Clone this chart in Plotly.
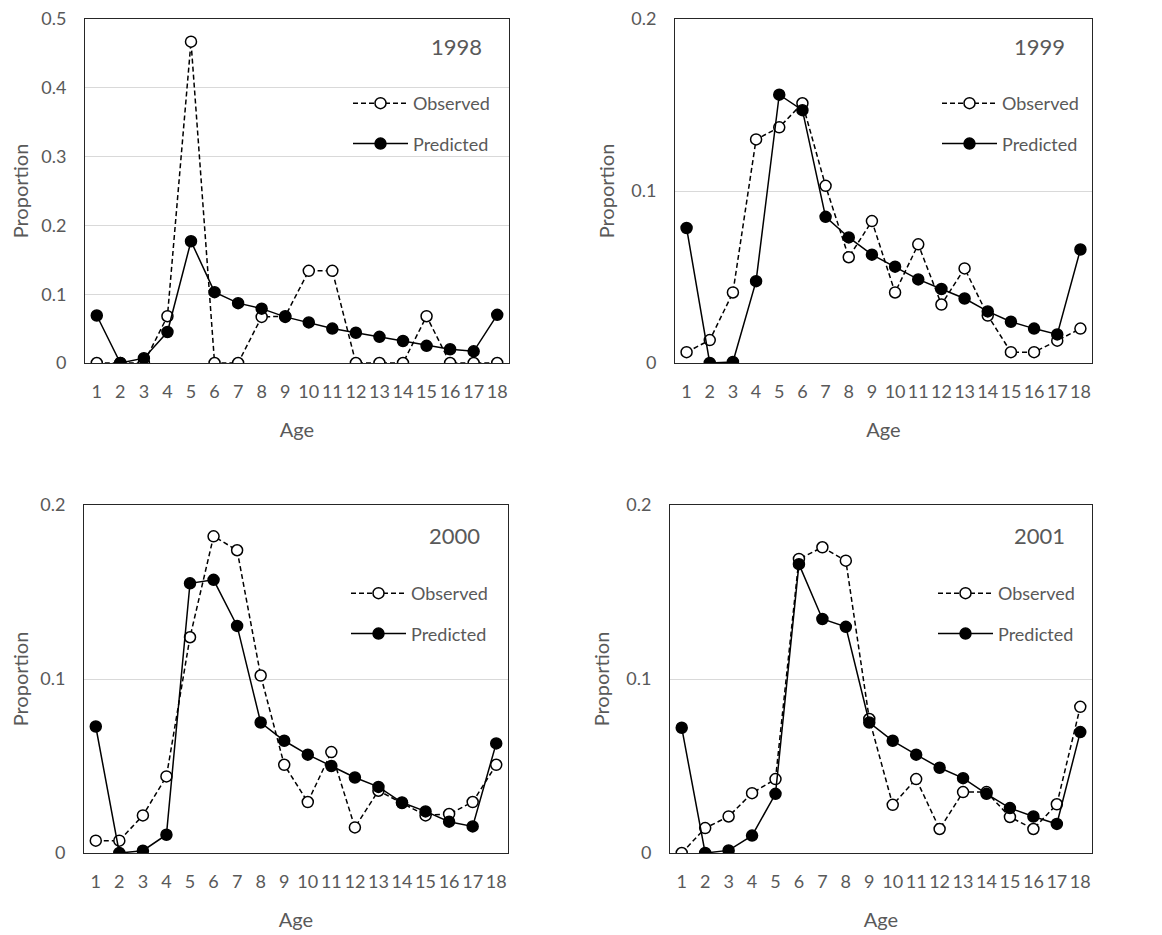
import plotly.graph_objects as go

ages = list(range(1, 19))
years = ["1998", "1999", "2000", "2001"]

obs_1998 = [0, 0, 0, 0.068, 0.467, 0, 0, 0.067, 0.068, 0.134, 0.134, 0, 0, 0, 0.068, 0, 0, 0]
pred_1998 = [0.069, 0, 0.007, 0.045, 0.177, 0.103, 0.087, 0.079, 0.067, 0.059, 0.050, 0.044, 0.038, 0.032, 0.025, 0.020, 0.017, 0.070]

obs_1999 = [0.0063, 0.0133, 0.041, 0.130, 0.137, 0.151, 0.103, 0.0615, 0.0825, 0.041, 0.069, 0.034, 0.055, 0.0276, 0.0063, 0.0063, 0.013, 0.020]
pred_1999 = [0.0785, 0, 0.0006, 0.0476, 0.156, 0.147, 0.085, 0.073, 0.063, 0.056, 0.0486, 0.043, 0.0375, 0.030, 0.024, 0.020, 0.0166, 0.066]

obs_2000 = [0.0071, 0.0071, 0.0216, 0.044, 0.124, 0.182, 0.174, 0.102, 0.0507, 0.0293, 0.058, 0.0147, 0.0358, 0.0287, 0.0216, 0.0224, 0.0293, 0.0507]
pred_2000 = [0.0727, 0, 0.0013, 0.0105, 0.155, 0.157, 0.1305, 0.075, 0.0645, 0.0565, 0.050, 0.0434, 0.038, 0.029, 0.0239, 0.018, 0.0153, 0.063]

obs_2001 = [0, 0.0143, 0.021, 0.0344, 0.0425, 0.169, 0.1757, 0.168, 0.077, 0.0277, 0.0425, 0.0138, 0.035, 0.035, 0.0207, 0.0138, 0.028, 0.084]
pred_2001 = [0.072, 0, 0.0015, 0.010, 0.034, 0.166, 0.1345, 0.130, 0.075, 0.0645, 0.0565, 0.049, 0.043, 0.034, 0.0258, 0.021, 0.0167, 0.0695]

observed = [obs_1998, obs_1999, obs_2000, obs_2001]
predicted = [pred_1998, pred_1999, pred_2000, pred_2001]
y_max = [0.5, 0.2, 0.2, 0.2]

OFF = 8  # page body margin
W, H = 1162 - OFF, 935 - OFF
FONT = "Lato"
GREY = "#595959"

# panel pixel boxes in page coordinates: left, right, top, bottom
boxes = [(85, 509, 19, 363), (675, 1092, 19, 363), (84, 508, 505, 853), (670, 1092, 505, 853)]
legend_pos = [(348, 85), (937, 85), (346, 575), (933, 575)]
year_pos = [(456, 46), (1039, 46), (454, 535), (1039, 535)]
ytitle_standoff = [20, 11, 20, 11]


def px_x(p):
    return (p - OFF) / W


def px_y(p):
    return 1 - (p - OFF) / H


fig = go.Figure()
layout = dict(
    width=W, height=H,
    margin=dict(l=0, r=0, t=0, b=0, autoexpand=False),
    paper_bgcolor="white", plot_bgcolor="white",
    font=dict(family=FONT, size=18, color=GREY),
    annotations=[],
)

for i in range(4):
    sfx = "" if i == 0 else str(i + 1)
    leg = "legend" + sfx
    l, r, t, b = boxes[i]
    fig.add_trace(go.Scatter(
        x=ages, y=observed[i], name="Observed", mode="lines+markers",
        xaxis="x" + sfx, yaxis="y" + sfx, legend=leg, legendgroup="o" + sfx,
        line=dict(color="black", width=1.5, dash="5px,3px"),
        marker=dict(symbol="circle", size=11, color="white", line=dict(color="black", width=1.5)),
    ))
    fig.add_trace(go.Scatter(
        x=ages, y=predicted[i], name="Predicted", mode="lines+markers",
        xaxis="x" + sfx, yaxis="y" + sfx, legend=leg, legendgroup="p" + sfx,
        line=dict(color="black", width=1.5),
        marker=dict(symbol="circle", size=11, color="black", line=dict(color="black", width=1.5)),
    ))
    layout["xaxis" + sfx] = dict(
        domain=[px_x(l), px_x(r)], anchor="y" + sfx, range=[0.5, 18.5],
        tickvals=ages, ticktext=[str(a) for a in ages], ticks="",
        showgrid=False, zeroline=False, showline=True, linecolor="#262626", linewidth=1, mirror=True,
        tickfont=dict(size=18, color=GREY), ticklabelstandoff=12, ticklabeloverflow="allow",
        title=dict(text="Age", font=dict(size=20, color=GREY), standoff=22),
    )
    layout["yaxis" + sfx] = dict(
        domain=[px_y(b), px_y(t)], anchor="x" + sfx, range=[0, y_max[i]], dtick=0.1,
        ticks="", showgrid=True, gridcolor="#d9d9d9", gridwidth=1,
        zeroline=False, showline=True, linecolor="#262626", linewidth=1, mirror=True,
        tickfont=dict(size=18, color=GREY), ticklabelstandoff=14, ticklabeloverflow="allow",
        title=dict(text="Proportion", font=dict(size=20, color=GREY), standoff=ytitle_standoff[i]),
    )
    lx, ly = legend_pos[i]
    layout[leg] = dict(
        x=px_x(lx), y=px_y(ly), xanchor="left", yanchor="top",
        bgcolor="rgba(0,0,0,0)", borderwidth=0, tracegroupgap=14, itemwidth=55,
        font=dict(size=18, color=GREY, family=FONT),
    )
    yx, yy = year_pos[i]
    layout["annotations"].append(dict(
        text=years[i], x=px_x(yx), y=px_y(yy), xref="paper", yref="paper",
        showarrow=False, xanchor="center", yanchor="middle",
        font=dict(size=22, color=GREY, family=FONT),
    ))

fig.update_layout(**layout)
fig.write_html("out.html")
